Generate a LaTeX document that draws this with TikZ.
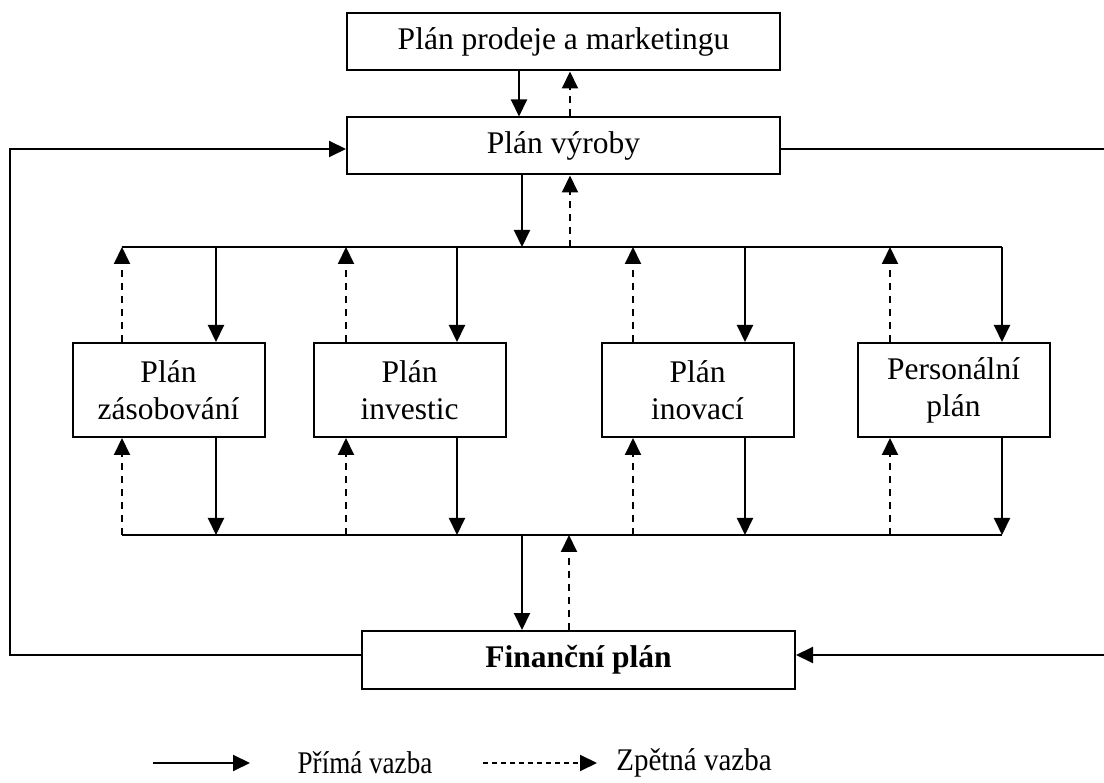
\documentclass[tikz,border=0pt]{standalone}
\usepackage{fontspec}
\setmainfont{Liberation Serif}
\usetikzlibrary{arrows.meta}
\usetikzlibrary{positioning}

\begin{document}
\begin{tikzpicture}[x=1pt,y=-1pt]
		\tikzstyle{rect} = [rectangle, draw=black, line width=2pt, inner sep=0pt, align=center, font=\fontsize{31.5}{37}\selectfont]
		\tikzstyle{wide} = [rect, minimum width=433pt, minimum height=57pt]
		\tikzstyle{small} = [rect, minimum width=192pt, minimum height=94pt]
		\tikzstyle{arrow} = [line width=2pt, -{Triangle[length=17pt,width=16pt]}]
		\tikzstyle{back} = [arrow, dash pattern=on 7pt off 6pt]
		\tikzstyle{legend} = [font=\fontsize{31.5}{37}\selectfont]
		\useasboundingbox (0,0) rectangle (1104,783);
		% main plans
		\node (prodej) [wide] at (563.5,42) {Plán prodeje a marketingu};
		\node (vyroba) [wide] at (563.5,146) {Plán výroby};
		\node (fin) [wide, minimum height=58pt, font=\fontsize{31.5}{37}\selectfont\bfseries] at (578.5,660) {Finanční plán};
		\draw[arrow] (519,0 |- prodej.south) -- (519,0 |- vyroba.north);
		\draw[back] (570,0 |- vyroba.north) -- (570,0 |- prodej.south);
		% buses
		\coordinate (busT) at (122,247);
		\coordinate (busB) at (122,535);
		\draw[line width=2pt] (busT) -- (1002,247);
		\draw[line width=2pt] (busB) -- (1002,535);
		\draw[arrow] (522,0 |- vyroba.south) -- (522,0 |- busT);
		\draw[back] (570,0 |- busT) -- (570,0 |- vyroba.south);
		\draw[arrow] (522,0 |- busB) -- (522,0 |- fin.north);
		\draw[back] (569,0 |- fin.north) -- (569,0 |- busB);
		% partial plans
		\foreach \name/\cx/\dx/\sx/\txt in {zas/168.5/122/216/{Plán\\zásobování}, inv/409.5/346/457/{Plán\\investic}, ino/697.5/633/745/{Plán\\inovací}, per/953.5/890/1002/{Personální\\plán}} {
			\node (\name) [small] at (\cx,390) {\txt};
			\draw[back] (\dx,0 |- \name.north) -- (\dx,0 |- busT);
			\draw[arrow] (\sx,0 |- busT) -- (\sx,0 |- \name.north);
			\draw[back] (\dx,0 |- busB) -- (\dx,0 |- \name.south);
			\draw[arrow] (\sx,0 |- \name.south) -- (\sx,0 |- busB);
		}
		% outer loops
		\draw[arrow] ([yshift=5pt]fin.west) -| (10,400) |- ([yshift=-3pt]vyroba.west);
		\draw[arrow] ([yshift=-3pt]vyroba.east) -| (1106,400) |- ([yshift=5pt]fin.east);
		% legend
		\node (prima) [legend] at (365,763) {\scalebox{0.86}[1]{Přímá vazba}};
		\node (zpetna) [legend] at (694,763) {\scalebox{0.92}[1]{Zpětná vazba}};
		\coordinate (primaA) at (153,763);
		\coordinate (primaB) at (250,763);
		\coordinate (zpetnaA) at (483,763);
		\coordinate (zpetnaB) at (597,763);
		\draw[arrow] (primaA) -- (primaB);
		\draw[arrow, dash pattern=on 5pt off 4pt] (zpetnaA) -- (zpetnaB);
	\end{tikzpicture}
\end{document}
